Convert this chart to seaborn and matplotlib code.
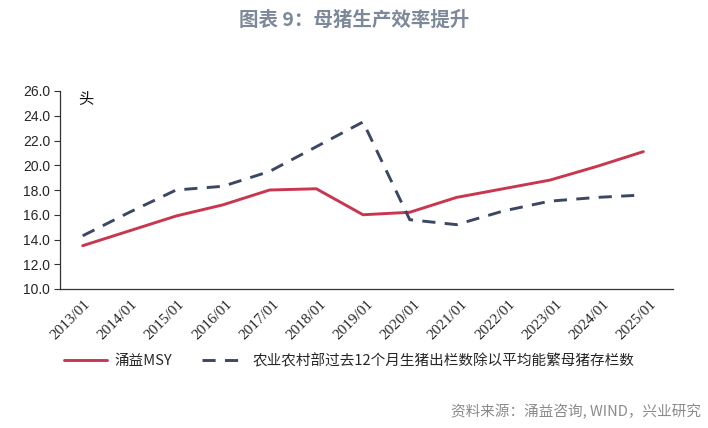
import numpy as np
import pandas as pd
import matplotlib
matplotlib.use("Agg")
import matplotlib.pyplot as plt
import seaborn as sns

years = ["2013/01", "2014/01", "2015/01", "2016/01", "2017/01", "2018/01", "2019/01",
         "2020/01", "2021/01", "2022/01", "2023/01", "2024/01", "2025/01"]
msy = [13.5, 14.7, 15.9, 16.8, 18.0, 18.1, 16.0, 16.2, 17.4, 18.1, 18.8, 19.9, 21.1]
moa = [14.3, 16.2, 18.0, 18.3, 19.5, 21.5, 23.5, 15.6, 15.2, 16.3, 17.1, 17.4, 17.6]
name_msy = "涌益MSY"
name_moa = "农业农村部过去12个月生猪出栏数除以平均能繁母猪存栏数"
yticks = [10.0, 12.0, 14.0, 16.0, 18.0, 20.0, 22.0, 24.0, 26.0]

sns.set_theme(style="white")
plt.rcParams['font.family'] = ['Noto Sans CJK SC', 'DejaVu Sans']

fig = plt.figure(figsize=(7.08, 4.28), dpi=100)
ax = fig.add_axes([60/708, 1-289/428, (673.5-60)/708, (289-91)/428])

df = pd.DataFrame({"x": np.arange(len(years)), "msy": msy, "moa": moa})
red = "#C9364F"
navy = "#3B4763"
sns.lineplot(data=df, x="x", y="msy", ax=ax, color=red, lw=2.1, label=name_msy)
sns.lineplot(data=df, x="x", y="moa", ax=ax, color=navy, lw=2.1, label=name_moa)
ax.lines[1].set_dashes([4.5, 3.2])

x0, x1 = -0.486, 12.645
ax.set_xlim(x0, x1)
ax.set_ylim(10, 26)
edges = np.linspace(x0, x1, len(years) + 1)
centers = (edges[:-1] + edges[1:]) / 2
ax.set_xticks(edges, minor=True)
ax.set_xticks(centers)
ax.set_xticklabels(years, rotation=45, ha="right", va="top",
                   fontsize=11, family=["Liberation Serif"], rotation_mode="anchor")
ax.tick_params(axis="x", which="major", length=0, pad=6)
ax.tick_params(axis="x", which="minor", length=4, width=0.8, color="#333333", direction="out")
ax.set_yticks(yticks)
ax.set_yticklabels([f"{v:.1f}" for v in yticks], fontsize=10, family=["Liberation Sans"])
ax.tick_params(axis="y", length=4, width=0.8, color="#333333", direction="out", left=True, pad=3)
ax.set_xlabel("")
ax.set_ylabel("")
for s in ["top", "right"]:
    ax.spines[s].set_visible(False)
for s in ["left", "bottom"]:
    ax.spines[s].set_color("#333333")
    ax.spines[s].set_linewidth(0.9)

ax.text(0.03, 0.955, "头", transform=ax.transAxes, fontsize=11, va="center", ha="left", color="#111111")

handles, labels = ax.get_legend_handles_labels()
ax.legend(handles, labels, loc="center", bbox_to_anchor=(0.493, 1-361/428),
          bbox_transform=fig.transFigure, ncol=2, frameon=False, fontsize=10.5,
          handlelength=3.0, columnspacing=2.0, handletextpad=0.5)

fig.text(0.5, 1-20/428, "图表 9：母猪生产效率提升", ha="center", va="center",
         fontsize=14, fontweight="bold", color="#7D8899")
fig.text(0.99, 1-412/428, "资料来源：涌益咨询, WIND，兴业研究", ha="right", va="center",
         fontsize=10.5, color="#8A8A8A")

fig.savefig("out.png", dpi=100)
